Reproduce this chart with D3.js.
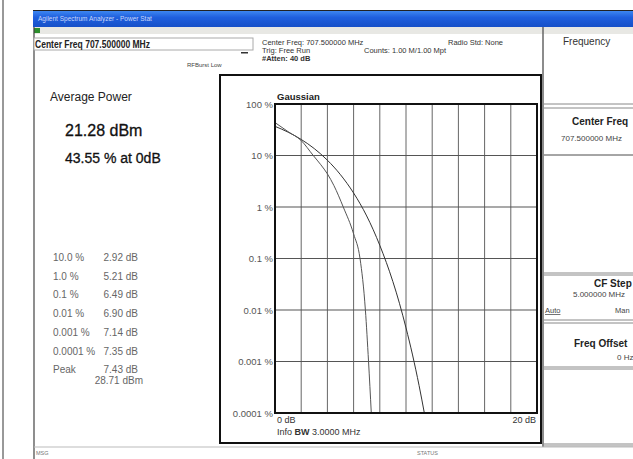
<!DOCTYPE html>
<html>
<head>
<meta charset="utf-8">
<script src="https://cdn.jsdelivr.net/npm/d3@7"></script>
<style>
	body { margin: 0; background: #fff; }
	svg { display: block; font-family: "Liberation Sans", Arial, sans-serif; }
</style>
</head>
<body>
<div id="draw"></div>
<script>
// CCDF readout (left panel)
var ccdfLabels = ["10.0 %", "1.0 %", "0.1 %", "0.01 %", "0.001 %", "0.0001 %", "Peak"];
var ccdfValues = ["2.92 dB", "5.21 dB", "6.49 dB", "6.90 dB", "7.14 dB", "7.35 dB", "7.43 dB"];

// measured curve, dB above average vs probability %
var measDb  = [0, 1, 2, 2.92, 3.5, 4, 4.5, 5.21, 6.0, 6.49, 6.90, 7.14, 7.35];
var measPct = [43.55, 29, 19.5, 10, 6.6, 4.4, 2.6, 1, 0.3, 0.1, 0.01, 0.001, 0.0001];

// gaussian reference curve
var gaussDb  = [0, 1, 2, 3, 4, 5, 6, 7, 8, 9, 9.5, 10, 10.5, 11, 11.4];
var gaussPct = [36.8, 28.4, 20.5, 13.6, 8.1, 4.23, 1.87, 0.67, 0.18, 0.0355, 0.0135, 0.0045, 0.00134, 0.00034, 0.0001];

var yTicks = [100, 10, 1, 0.1, 0.01, 0.001, 0.0001];
var yTickLabels = ["100 %", "10 %", "1 %", "0.1 %", "0.01 %", "0.001 %", "0.0001 %"];
var xTicks = [0, 2, 4, 6, 8, 10, 12, 14, 16, 18, 20];

function drawCCDF() {
	var width = 633, height = 459;
	var svg = d3.select("#draw").append("svg")
		.attr("width", width)
		.attr("height", height);

	var defs = svg.append("defs");
	var grad = defs.append("linearGradient")
		.attr("id", "titlebar")
		.attr("x1", 0).attr("y1", 0).attr("x2", 0).attr("y2", 1);
	grad.append("stop").attr("offset", "0%").attr("stop-color", "#3d86f0");
	grad.append("stop").attr("offset", "40%").attr("stop-color", "#1f5fde");
	grad.append("stop").attr("offset", "100%").attr("stop-color", "#1650c8");

	// page frame
	svg.append("line")
		.attr("x1", 3).attr("x2", 3).attr("y1", 0).attr("y2", height)
		.attr("stroke", "#333").attr("stroke-width", 1);

	// window title bar + toolbar
	svg.append("rect")
		.attr("x", 33).attr("y", 10).attr("width", 600).attr("height", 1.5)
		.attr("fill", "#222");
	svg.append("rect")
		.attr("x", 33).attr("y", 11).attr("width", 600).attr("height", 16)
		.attr("fill", "url(#titlebar)");
	svg.append("text")
		.text("Agilent Spectrum Analyzer - Power Stat")
		.attr("x", 38).attr("y", 21)
		.attr("fill", "#c9d8fb")
		.style("font-size", "6.5px");
	svg.append("rect")
		.attr("x", 33).attr("y", 27).attr("width", 600).attr("height", 7)
		.attr("fill", "#e8e8e4");
	svg.append("rect")
		.attr("x", 34).attr("y", 28).attr("width", 6).attr("height", 5)
		.attr("fill", "#2d8f2d");
	svg.append("line")
		.attr("x1", 34).attr("x2", 34).attr("y1", 27).attr("y2", height)
		.attr("stroke", "#444").attr("stroke-width", 1.2);

	// header
	svg.append("rect")
		.attr("x", 34).attr("y", 38).attr("width", 219).attr("height", 12)
		.attr("fill", "#fff").attr("stroke", "#aaa");
	svg.append("text")
		.text("Center Freq 707.500000 MHz")
		.attr("x", 35).attr("y", 48)
		.attr("textLength", 115)
		.attr("lengthAdjust", "spacingAndGlyphs")
		.attr("fill", "#222")
		.style("font-size", "10.5px")
		.style("font-weight", "bold");
	svg.append("rect")
		.attr("x", 241).attr("y", 52).attr("width", 7).attr("height", 1.5)
		.attr("fill", "#333");
	svg.append("text")
		.text("RFBurst Low")
		.attr("x", 187).attr("y", 67)
		.attr("fill", "#444")
		.style("font-size", "6px");

	var info = [
		{t: "Center Freq: 707.500000 MHz", x: 262, y: 45, w: "normal"},
		{t: "Trig: Free Run", x: 262, y: 53, w: "normal"},
		{t: "#Atten: 40 dB", x: 262, y: 61, w: "bold"},
		{t: "Counts: 1.00 M/1.00 Mpt", x: 364, y: 53, w: "normal"},
		{t: "Radio Std: None", x: 448, y: 45, w: "normal"}
	];
	svg.selectAll("text.info")
		.data(info)
		.enter()
		.append("text")
		.attr("class", "info")
		.text(function(d){ return d.t; })
		.attr("x", function(d){ return d.x; })
		.attr("y", function(d){ return d.y; })
		.attr("fill", "#333")
		.style("font-size", "7.5px")
		.style("font-weight", function(d){ return d.w; });

	// right softkey panel
	svg.append("line")
		.attr("x1", 543).attr("x2", 543).attr("y1", 27).attr("y2", 447)
		.attr("stroke", "#666").attr("stroke-width", 1.5);
	var keys = [[104, 108], [155, 155], [273, 275], [320, 323], [367, 369], [444, 446]];
	keys.forEach(function(k){
		svg.append("line")
			.attr("x1", 544).attr("x2", 633).attr("y1", k[0]).attr("y2", k[0])
			.attr("stroke", "#888");
		svg.append("line")
			.attr("x1", 544).attr("x2", 633).attr("y1", k[1]).attr("y2", k[1])
			.attr("stroke", "#888");
	});
	svg.append("text").text("Frequency")
		.attr("x", 563).attr("y", 45)
		.attr("fill", "#333").style("font-size", "10px");
	svg.append("text").text("Center Freq")
		.attr("x", 572).attr("y", 125)
		.attr("fill", "#222").style("font-size", "10px").style("font-weight", "bold");
	svg.append("text").text("707.500000 MHz")
		.attr("x", 561).attr("y", 141)
		.attr("fill", "#444").style("font-size", "8px");
	svg.append("text").text("CF Step")
		.attr("x", 594).attr("y", 287)
		.attr("fill", "#222").style("font-size", "10px").style("font-weight", "bold");
	svg.append("text").text("5.000000 MHz")
		.attr("x", 573).attr("y", 297)
		.attr("fill", "#444").style("font-size", "8px");
	svg.append("text").text("Auto")
		.attr("x", 545).attr("y", 313)
		.attr("fill", "#444").style("font-size", "7.5px")
		.style("text-decoration", "underline");
	svg.append("text").text("Man")
		.attr("x", 615).attr("y", 313)
		.attr("fill", "#444").style("font-size", "7.5px");
	svg.append("text").text("Freq Offset")
		.attr("x", 574).attr("y", 347)
		.attr("fill", "#222").style("font-size", "10px").style("font-weight", "bold");
	svg.append("text").text("0 Hz")
		.attr("x", 617).attr("y", 360)
		.attr("fill", "#444").style("font-size", "8px");

	// status bar
	svg.append("line")
		.attr("x1", 34).attr("x2", 633).attr("y1", 447).attr("y2", 447)
		.attr("stroke", "#bbb");
	svg.append("text").text("MSG")
		.attr("x", 36).attr("y", 455)
		.attr("fill", "#777").style("font-size", "5.5px");
	svg.append("text").text("STATUS")
		.attr("x", 417).attr("y", 455)
		.attr("fill", "#777").style("font-size", "5.5px");

	// left result panel
	svg.append("text").text("Average Power")
		.attr("x", 50).attr("y", 101)
		.attr("fill", "#222").style("font-size", "12px");
	svg.append("text").text("21.28 dBm")
		.attr("x", 65).attr("y", 136)
		.attr("fill", "#111").attr("stroke", "#111").attr("stroke-width", 0.3)
		.style("font-size", "16px");
	svg.append("text").text("43.55 % at 0dB")
		.attr("x", 65).attr("y", 163)
		.attr("fill", "#111").attr("stroke", "#111").attr("stroke-width", 0.3)
		.style("font-size", "14px");

	var rowY = [261, 280, 298, 317, 336, 355, 373];
	svg.selectAll("text.lbl")
		.data(ccdfLabels)
		.enter()
		.append("text")
		.attr("class", "lbl")
		.text(function(d){ return d; })
		.attr("x", 53)
		.attr("y", function(d, i){ return rowY[i]; })
		.attr("fill", "#666")
		.style("font-size", "10px");
	svg.selectAll("text.val")
		.data(ccdfValues)
		.enter()
		.append("text")
		.attr("class", "val")
		.text(function(d){ return d; })
		.attr("x", 138)
		.attr("y", function(d, i){ return rowY[i]; })
		.attr("text-anchor", "end")
		.attr("fill", "#666")
		.style("font-size", "10px");
	svg.append("text").text("28.71 dBm")
		.attr("x", 143).attr("y", 384)
		.attr("text-anchor", "end")
		.attr("fill", "#666").style("font-size", "10px");

	// chart window
	svg.append("rect")
		.attr("x", 220).attr("y", 75).attr("width", 321).attr("height", 368)
		.attr("fill", "none").attr("stroke", "#111").attr("stroke-width", 2);

	var left = 275, right = 537, top = 104, bottom = 413;
	var x = d3.scaleLinear().domain([0, 20]).range([left, right]);
	var y = d3.scaleLog().domain([0.0001, 100]).range([bottom, top]);

	var plot = svg.append("g");
	plot.selectAll("line.vgrid")
		.data(xTicks)
		.enter()
		.append("line")
		.attr("class", "vgrid")
		.attr("x1", function(d){ return x(d); })
		.attr("x2", function(d){ return x(d); })
		.attr("y1", top).attr("y2", bottom)
		.attr("stroke", "#666").attr("stroke-width", 1);
	plot.selectAll("line.hgrid")
		.data(yTicks)
		.enter()
		.append("line")
		.attr("class", "hgrid")
		.attr("x1", left).attr("x2", right)
		.attr("y1", function(d){ return y(d); })
		.attr("y2", function(d){ return y(d); })
		.attr("stroke", "#555").attr("stroke-width", 1.2);

	plot.selectAll("text.ytick")
		.data(yTicks)
		.enter()
		.append("text")
		.attr("class", "ytick")
		.text(function(d, i){ return yTickLabels[i]; })
		.attr("x", left - 2)
		.attr("y", function(d){ return y(d) + 3.5; })
		.attr("text-anchor", "end")
		.attr("fill", "#555")
		.style("font-size", "9.5px");

	var line = d3.line()
		.x(function(d){ return x(d[0]); })
		.y(function(d){ return y(d[1]); })
		.curve(d3.curveMonotoneX);

	plot.append("path")
		.datum(d3.zip(gaussDb, gaussPct))
		.attr("d", line)
		.attr("fill", "none")
		.attr("stroke", "#333")
		.attr("stroke-width", 1);
	plot.append("path")
		.datum(d3.zip(measDb, measPct))
		.attr("d", line)
		.attr("fill", "none")
		.attr("stroke", "#555")
		.attr("stroke-width", 1);

	plot.append("rect")
		.attr("x", left).attr("y", top)
		.attr("width", right - left).attr("height", bottom - top)
		.attr("fill", "none").attr("stroke", "#111").attr("stroke-width", 2);

	plot.append("text").text("Gaussian")
		.attr("x", left + 2).attr("y", top - 4)
		.attr("fill", "#222").style("font-size", "9.5px").style("font-weight", "bold");
	plot.append("text").text("0 dB")
		.attr("x", x(0) + 2).attr("y", bottom + 10)
		.attr("fill", "#333").style("font-size", "9px");
	plot.append("text").text("20 dB")
		.attr("x", x(20) - 1).attr("y", bottom + 10)
		.attr("text-anchor", "end")
		.attr("fill", "#333").style("font-size", "9px");

	var bw = plot.append("text")
		.attr("x", x(0) + 2).attr("y", bottom + 22)
		.attr("fill", "#333").style("font-size", "9px");
	bw.append("tspan").text("Info ");
	bw.append("tspan").text("BW").style("font-weight", "bold");
	bw.append("tspan").text(" 3.0000 MHz");
}

drawCCDF();
</script>
</body>
</html>
